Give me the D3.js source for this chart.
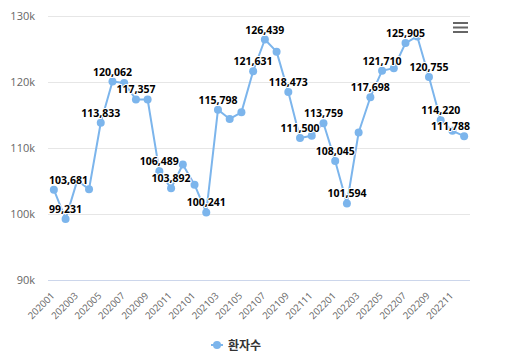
<!DOCTYPE html>
<html><head><meta charset="utf-8">
<script src="https://cdn.jsdelivr.net/npm/d3@7"></script>
<style>
html,body{margin:0;padding:0;background:#fff;}
svg{display:block;font-family:"Open Sans","Noto Sans","Noto Sans CJK KR",sans-serif;}
</style></head>
<body><div id="chart"></div>
<script>
const categories = ["202001","202002","202003","202004","202005","202006","202007","202008","202009","202010","202011","202012",
"202101","202102","202103","202104","202105","202106","202107","202108","202109","202110","202111","202112",
"202201","202202","202203","202204","202205","202206","202207","202208","202209","202210","202211","202212"];
const patients = [103681,99231,105100,103750,113833,120062,119850,117357,117350,106489,103892,107500,
104450,100241,115798,114400,115400,121631,126439,124600,118473,111500,111850,113759,
108045,101594,112350,117698,121710,122100,125905,126900,120755,114220,112600,111788];
const labeledIdx = [0,1,4,5,7,9,10,13,14,17,18,20,21,23,24,25,27,28,30,32,33,35];
const yTicks = [90000,100000,110000,120000,130000];
const seriesName = "환자수";

(function(){
const W=516,H=356;
const svg=d3.select("#chart").append("svg").attr("width",W).attr("height",H);
const pL=48,pR=470,pT=16,pB=280;
const x=d3.scalePoint().domain(categories).range([pL,pR]).padding(0.5);
const y=d3.scaleLinear().domain([90000,130000]).range([pB,pT]);

// gridlines
svg.append("g").selectAll("line").data(yTicks.slice(1)).join("line")
  .attr("x1",pL).attr("x2",pR).attr("y1",d=>Math.round(y(d))+0.5).attr("y2",d=>Math.round(y(d))+0.5)
  .attr("stroke","#e6e6e6").attr("stroke-width",1);
svg.append("line").attr("x1",pL).attr("x2",pR).attr("y1",pB+0.5).attr("y2",pB+0.5)
  .attr("stroke","#ccd6eb").attr("stroke-width",1);

// y labels
svg.append("g").selectAll("text").data(yTicks).join("text")
  .attr("x",35).attr("y",d=>y(d)).attr("dy","0.35em").attr("text-anchor","end")
  .attr("font-size",11).attr("fill","#666").text(d=>d3.format("d")(d/1000)+"k");

// x labels
const xl = categories.filter((c,i)=>i%2===0);
svg.append("g").selectAll("text").data(xl).join("text")
  .attr("transform",d=>`translate(${x(d)-1},${pB+14}) rotate(-45)`)
  .attr("text-anchor","end").attr("dy","0.35em")
  .attr("font-size",9.6).attr("fill","#666").text(d=>d);

// line
const color="#7cb5ec";
const line=d3.line().x((d,i)=>x(categories[i])).y(d=>y(d));
svg.append("path").datum(patients).attr("d",line).attr("fill","none").attr("stroke",color).attr("stroke-width",2)
  .attr("stroke-linejoin","round").attr("stroke-linecap","round");
svg.append("g").selectAll("circle").data(patients).join("circle")
  .attr("cx",(d,i)=>x(categories[i])).attr("cy",d=>y(d)).attr("r",4).attr("fill",color);

// data labels
const fmt=d3.format(",");
const lg=svg.append("g");
labeledIdx.forEach(i=>{
  const cx=x(categories[i]);
  const t=lg.append("text").attr("x",cx).attr("y",y(patients[i])-6)
    .attr("text-anchor","middle").attr("font-size",10.5).attr("font-weight","bold").attr("fill","#000")
    .attr("stroke","#fff").attr("stroke-width",2).attr("paint-order","stroke").attr("stroke-linejoin","round")
    .text(fmt(patients[i]));
  const bb=t.node().getBBox();
  if(bb.x+bb.width>pR){ t.attr("x",cx-(bb.x+bb.width-pR)); }
  if(bb.x<pL){ t.attr("x",cx+(pL-bb.x)+1); }
});

// menu icon
svg.append("g").selectAll("rect").data([0,1,2]).join("rect")
  .attr("x",453).attr("y",d=>22+d*4.5).attr("width",15).attr("height",2).attr("fill","#666");

// legend
const lgd=svg.append("g");
lgd.append("line").attr("x1",211).attr("x2",223).attr("y1",345).attr("y2",345).attr("stroke",color).attr("stroke-width",2);
lgd.append("circle").attr("cx",217).attr("cy",345).attr("r",4).attr("fill",color);
lgd.append("text").attr("x",228).attr("y",349.5).attr("font-size",12).attr("font-weight","bold").attr("fill","#333").text(seriesName);
})();
</script></body></html>
